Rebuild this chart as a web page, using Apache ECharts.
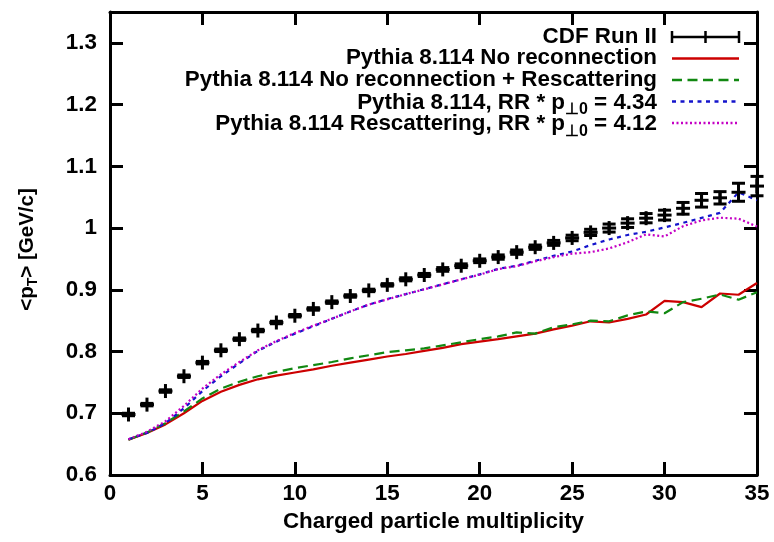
<!DOCTYPE html>
<html>
<head>
<meta charset="utf-8">
<script src="https://cdn.jsdelivr.net/npm/echarts@6/dist/echarts.min.js"></script>
<style>
  html, body { margin: 0; padding: 0; background: #fff; }
  #chart { width: 774px; height: 542px; }
</style>
</head>
<body>
<div id="chart"></div>
<script>
// Mean transverse momentum vs. charged particle multiplicity
const multiplicity = [1, 2, 3, 4, 5, 6, 7, 8, 9, 10, 11, 12, 13, 14, 15, 16, 17, 18,
  19, 20, 21, 22, 23, 24, 25, 26, 27, 28, 29, 30, 31, 32, 33, 34, 35];

// CDF Run II measurement and its uncertainty
const cdfMean = [0.698, 0.714, 0.736, 0.760, 0.782, 0.802, 0.820, 0.834, 0.847, 0.858,
  0.869, 0.880, 0.890, 0.899, 0.908, 0.917, 0.924, 0.933, 0.939, 0.947,
  0.953, 0.961, 0.969, 0.976, 0.984, 0.993, 1.000, 1.008, 1.016, 1.021,
  1.032, 1.045, 1.049, 1.058, 1.068];
const cdfError = [0.002, 0.002, 0.002, 0.002, 0.002, 0.002, 0.002, 0.002, 0.002, 0.002,
  0.002, 0.002, 0.002, 0.002, 0.002, 0.0025, 0.0025, 0.003, 0.003, 0.003,
  0.0035, 0.0035, 0.0035, 0.004, 0.0045, 0.005, 0.0065, 0.007, 0.0075, 0.008,
  0.0095, 0.011, 0.010, 0.0146, 0.0157];

// Pythia 8.114 tunes
const noReconnection = [0.657, 0.668, 0.682, 0.700, 0.720, 0.735, 0.746, 0.755, 0.761, 0.766,
  0.771, 0.777, 0.782, 0.787, 0.792, 0.796, 0.801, 0.806, 0.812, 0.816,
  0.820, 0.8245, 0.829, 0.836, 0.842, 0.849, 0.847, 0.853, 0.860, 0.882,
  0.880, 0.872, 0.894, 0.892, 0.911];
const noReconnectionRescat = [0.657, 0.669, 0.684, 0.703, 0.724, 0.740, 0.751, 0.760, 0.767, 0.773,
  0.778, 0.783, 0.789, 0.794, 0.799, 0.802, 0.805, 0.810, 0.815, 0.820,
  0.8245, 0.831, 0.829, 0.8395, 0.844, 0.850, 0.849, 0.8585, 0.865, 0.862,
  0.880, 0.8855, 0.8925, 0.884, 0.896];
const rrTune = [0.658, 0.668, 0.684, 0.708, 0.736, 0.760, 0.781, 0.801, 0.816, 0.829,
  0.841, 0.853, 0.865, 0.876, 0.885, 0.893, 0.901, 0.909, 0.917, 0.925,
  0.934, 0.939, 0.947, 0.955, 0.962, 0.9725, 0.9815, 0.9888, 0.994, 1.001,
  1.0084, 1.0165, 1.0246, 1.058, 1.045];
const rescatRrTune = [0.658, 0.670, 0.687, 0.712, 0.740, 0.763, 0.783, 0.802, 0.817, 0.830,
  0.842, 0.853, 0.865, 0.876, 0.8845, 0.893, 0.9007, 0.9088, 0.9168, 0.9245,
  0.9335, 0.9384, 0.946, 0.953, 0.9585, 0.961, 0.967, 0.977, 0.9898, 0.9865,
  1.003, 1.0125, 1.0168, 1.0152, 1.0025];

const seriesNames = [
  'CDF Run II',
  'Pythia 8.114 No reconnection',
  'Pythia 8.114 No reconnection + Rescattering',
  'Pythia 8.114, RR * p{s|⊥0} = 4.34',
  'Pythia 8.114 Rescattering, RR * p{s|⊥0} = 4.12'
];

const FONT = '"Liberation Sans", Arial, Helvetica, sans-serif';
const FS = 22.4;
const SUB = 16;
const lineColors = ['#000000', '#cc0000', '#118811', '#1414cc', '#c400c4'];
const lineDashes = ['solid', 'solid', [10, 5.5], [4, 4.5], [2, 2.5]];

const pairs = ys => multiplicity.map((m, i) => [m, ys[i]]);

const richText = {
  m: { fontFamily: FONT, fontWeight: 'bold', fontSize: FS, lineHeight: FS, verticalAlign: 'top', fill: '#000' },
  s: { fontFamily: FONT, fontWeight: 'bold', fontSize: SUB, lineHeight: SUB, padding: [10, 0, 0, 0], verticalAlign: 'top', fill: '#000' }
};
const asRich = t => t.split(/(\{s\|[^}]*\})/).filter(Boolean)
  .map(p => p.startsWith('{s|') ? p : '{m|' + p + '}').join('');

function tickFmt(v) {
  const r = Math.round(v * 10);
  return Math.abs(v * 10 - r) < 1e-6 ? String(r / 10) : '';
}

const axisLine = { show: true, onZero: false, lineStyle: { color: '#000', width: 3 } };
const axisTick = { show: true, inside: true, length: 13, lineStyle: { color: '#000', width: 3 } };
const labelStyle = { fontFamily: FONT, fontWeight: 'bold', fontSize: FS, color: '#000' };

// key drawn gnuplot-style: text right-aligned, line sample to its right
const legendTop = 37, legendStep = 21.5, textRight = 657, keyX0 = 672, keyX1 = 739;
const legendGraphics = [];
seriesNames.forEach((name, i) => {
  const y = legendTop + i * legendStep;
  const hasSub = name.indexOf('{s|') >= 0;
  legendGraphics.push({
    type: 'text', x: textRight, y: y + (hasSub ? 1.5 : 0),
    style: {
      text: asRich(name), rich: richText, align: 'right', verticalAlign: 'middle',
      font: 'bold ' + FS + 'px ' + FONT, fill: '#000'
    }
  });
  if (i === 0) {
    const st = { stroke: '#000', lineWidth: 2.5 };
    const mid = (keyX0 + keyX1) / 2;
    legendGraphics.push(
      { type: 'line', shape: { x1: keyX0, y1: y, x2: keyX1, y2: y }, style: st },
      { type: 'line', shape: { x1: keyX0, y1: y - 6, x2: keyX0, y2: y + 6 }, style: st },
      { type: 'line', shape: { x1: keyX1, y1: y - 6, x2: keyX1, y2: y + 6 }, style: st },
      { type: 'line', shape: { x1: mid, y1: y - 6, x2: mid, y2: y + 6 }, style: st }
    );
  } else {
    legendGraphics.push({
      type: 'line', shape: { x1: keyX0, y1: y, x2: keyX1, y2: y },
      style: { stroke: lineColors[i], lineWidth: 2.5, lineDash: lineDashes[i] === 'solid' ? null : lineDashes[i] }
    });
  }
});

function renderErrorPoint(params, api) {
  const x = api.value(0), y = api.value(1), e = api.value(2);
  const c = api.coord([x, y]);
  const hi = api.coord([x, y + e]);
  const lo = api.coord([x, y - e]);
  const arm = 7, cap = 6.5;
  const st = { stroke: '#000', lineWidth: 3 };
  return {
    type: 'group',
    children: [
      { type: 'line', shape: { x1: c[0] - arm, y1: c[1], x2: c[0] + arm, y2: c[1] }, style: st },
      { type: 'line', shape: { x1: c[0], y1: c[1] - arm, x2: c[0], y2: c[1] + arm }, style: st },
      { type: 'line', shape: { x1: c[0], y1: hi[1], x2: c[0], y2: lo[1] }, style: st },
      { type: 'line', shape: { x1: c[0] - cap, y1: hi[1], x2: c[0] + cap, y2: hi[1] }, style: st },
      { type: 'line', shape: { x1: c[0] - cap, y1: lo[1], x2: c[0] + cap, y2: lo[1] }, style: st }
    ]
  };
}

function curve(name, ys, idx) {
  return {
    name: name, type: 'line', data: pairs(ys), showSymbol: false, symbol: 'none',
    z: 2 + idx, silent: true, animation: false,
    lineStyle: { color: lineColors[idx], width: 2.2, type: lineDashes[idx] }
  };
}

const chart = echarts.init(document.getElementById('chart'), null, { renderer: 'canvas' });
chart.setOption({
  backgroundColor: '#fff',
  animation: false,
  grid: { left: 110, right: 17, top: 12, bottom: 67 },
  xAxis: [{
    type: 'value', min: 0, max: 35, interval: 5, position: 'bottom',
    axisLine: axisLine, axisTick: axisTick, splitLine: { show: false },
    axisLabel: Object.assign({ margin: 8 }, labelStyle),
    name: 'Charged particle multiplicity', nameLocation: 'middle', nameGap: 36,
    nameTextStyle: labelStyle
  }, {
    type: 'value', min: 0, max: 35, interval: 5, position: 'top',
    axisLine: axisLine, axisTick: axisTick, splitLine: { show: false },
    axisLabel: { show: false }
  }],
  yAxis: [{
    type: 'value', min: 0.6, max: 1.35, interval: 0.1, position: 'left',
    axisLine: axisLine, axisTick: axisTick, splitLine: { show: false },
    axisLabel: Object.assign({ margin: 13, formatter: tickFmt }, labelStyle),
    name: '{m|<p}{t|T}{m|> [GeV/c]}', nameLocation: 'middle', nameGap: 73,
    nameTextStyle: {
      padding: [0, 12, 0, 0],
      rich: {
        m: { fontFamily: FONT, fontWeight: 'bold', fontSize: 20.5, lineHeight: 20.5, verticalAlign: 'top', color: '#000' },
        t: { fontFamily: FONT, fontWeight: 'bold', fontSize: 14, lineHeight: 14, padding: [10, 0, 0, 0], verticalAlign: 'top', color: '#000' }
      }
    }
  }, {
    type: 'value', min: 0.6, max: 1.35, interval: 0.1, position: 'right',
    axisLine: axisLine, axisTick: axisTick, splitLine: { show: false },
    axisLabel: { show: false }
  }],
  graphic: legendGraphics,
  series: [
    {
      name: seriesNames[0], type: 'custom', renderItem: renderErrorPoint, clip: false, z: 10,
      data: multiplicity.map((m, i) => [m, cdfMean[i], cdfError[i]]),
      encode: { x: 0, y: 1 }, silent: true
    },
    curve(seriesNames[1], noReconnection, 1),
    curve(seriesNames[2], noReconnectionRescat, 2),
    curve(seriesNames[3], rrTune, 3),
    curve(seriesNames[4], rescatRrTune, 4)
  ]
});
</script>
</body>
</html>
